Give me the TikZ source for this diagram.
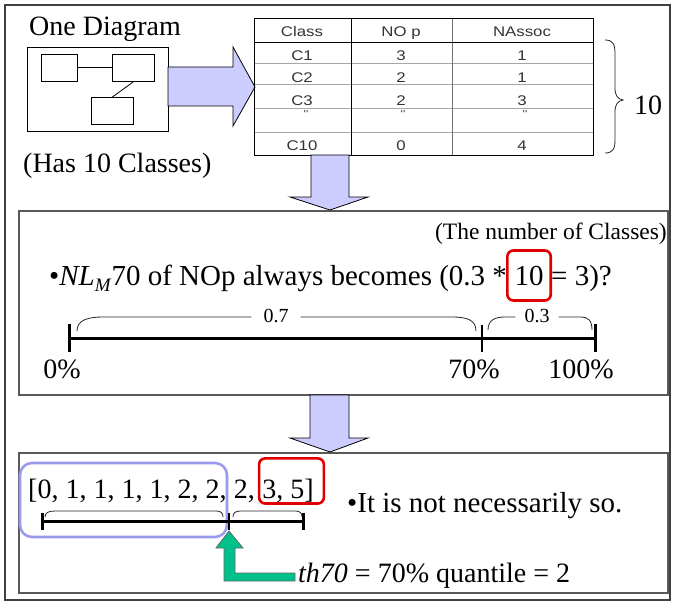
\documentclass[tikz,border=0pt]{standalone}
\usepackage{fontspec}
\setmainfont{Liberation Serif}
\newfontfamily\tabfont[FakeStretch=1.2]{Liberation Sans}
\usetikzlibrary{calc}
\definecolor{lav}{HTML}{CCCCFF}
\definecolor{lavline}{HTML}{9A9AEE}
\definecolor{boxred}{HTML}{E00000}
\definecolor{qgreen}{HTML}{00C08B}
\newcommand\setfs[1]{\fontsize{#1}{#1}\selectfont}
\begin{document}
\begin{tikzpicture}[x=1pt,y=-1pt,
  frame/.style={draw=black!75, line width=1.3pt},
  panel/.style={draw=black!65, line width=1.4pt},
  fatarrow/.style={draw=black, line width=0.8pt, fill=lav, line join=miter},
  cls/.style={draw=black, line width=0.8pt, inner sep=0, anchor=north west},
  tab/.style={font=\tabfont\setfs{14}, text=black!80, inner sep=0, anchor=base},
  txt/.style={inner sep=0, anchor=base west},
  brc/.style={draw=black!85, line width=0.8pt},
  redbox/.style={draw=boxred, line width=2.6pt, rounded corners=6pt},
  axis/.style={line width=3pt},
  midtick/.style={line width=2pt}]
\useasboundingbox (0,0) rectangle (673,602);
\draw[frame] (5,5) rectangle (670,600);

% ---------- top left: one diagram ----------
\node[txt, font=\setfs{28}] (title) at (29,36) {One Diagram};
\node[cls, minimum width=141, minimum height=84] (dia) at (27,47) {};
\node[cls, minimum width=36, minimum height=27] (c1) at (41,54) {};
\node[cls, minimum width=42, minimum height=27] (c2) at (112,54) {};
\node[cls, minimum width=42, minimum height=27] (c3) at (91,97) {};
\draw[line width=0.8pt] (c1.east) -- (c2.west);
\draw[line width=0.8pt] (c2.south) -- (c3.north);
\node[txt, font=\setfs{28}] (has) at (23,172) {(Has 10 Classes)};

% right arrow
\draw[fatarrow] (168,67) -- (233,67) -- (233,47) -- (255,87) -- (233,126) -- (233,106) -- (168,106) -- cycle;

% ---------- table ----------
\draw[black!35, line width=0.8pt] (254,63) -- (593,63) (254,84) -- (593,84) (254,108) -- (593,108) (254,132) -- (593,132);
\draw[black!55, line width=0.8pt] (452,18) -- (452,155);
\draw[black, line width=0.9pt] (254,42) -- (593,42) (351,18) -- (351,155);
\draw[black, line width=0.9pt] (254,18) rectangle (593,155);
\node[tab] (h1) at (302,36.5) {Class};
\node[tab] (h2) at (401,36.5) {NO p};
\node[tab] (h3) at (522,36.5) {NAssoc};
\node[tab] (r11) at (302,61) {C1};
\node[tab] (r12) at (401,61) {3};
\node[tab] (r13) at (522,61) {1};
\node[tab] (r21) at (302,82.5) {C2};
\node[tab] (r22) at (401,82.5) {2};
\node[tab] (r23) at (522,82.5) {1};
\node[tab] (r31) at (302,105.5) {C3};
\node[tab] (r32) at (401,105.5) {2};
\node[tab] (r33) at (522,105.5) {3};
\node[tab, font=\tabfont\setfs{10}] (d1) at (306,117.5) {''};
\node[tab, font=\tabfont\setfs{10}] (d2) at (403,117.5) {''};
\node[tab, font=\tabfont\setfs{10}] (d3) at (525,117.5) {''};
\node[tab] (r41) at (302,150) {C10};
\node[tab] (r42) at (401,150) {0};
\node[tab] (r43) at (522,150) {4};

% big brace and 10
\draw[brc] (605,40) .. controls (613,40) and (615,44) .. (615,54) -- (615,88)
  .. controls (615,96) and (618,99) .. (623,100)
  .. controls (618,101) and (615,104) .. (615,112) -- (615,140)
  .. controls (615,150) and (612,153) .. (605,153);
\node[txt, font=\setfs{28}] (ten) at (634,114) {10};

% ---------- middle panel ----------
\draw[panel] (19,211) rectangle (668,395);
\draw[fatarrow] (311,155) -- (349,155) -- (349,197) -- (368,197) -- (330,210) -- (290,197) -- (311,197) -- cycle;

\node[inner sep=0, anchor=base east, font=\setfs{23.5}] (noc) at (667,239) {(The number of Classes)};
\node[txt, font=\setfs{29}] (s1) at (49,285) {•\textit{NL}\raisebox{-0.22em}{\setfs{19}\textit{M}}70 of NOp always becomes (0.3 *};
\node[txt, font=\setfs{29}] (s2) at ($(s1.base east)+(7.2,0)$) {10};
\node[txt, font=\setfs{29}] (s3) at ($(s2.base east)+(7.2,0)$) {= 3)?};
\draw[redbox] ($(s2.north west)+(-7,-15)$) rectangle ($(s2.south east)+(7,15)$);

% number line
\coordinate (p0) at (69,338);
\coordinate (p70) at (482,338);
\coordinate (p100) at (595,338);
\draw[axis] (p0) -- (p100);
\draw[axis] ($(p0)+(0,-14)$) -- ($(p0)+(0,14)$);
\draw[axis] ($(p100)+(0,-14)$) -- ($(p100)+(0,14)$);
\draw[midtick] ($(p70)+(0,-13)$) -- ($(p70)+(0,14)$);
\node[inner sep=1pt, font=\setfs{20}] (l07) at (276,316) {0.7};
\node[inner sep=1pt, font=\setfs{20}] (l03) at (537,316) {0.3};
\draw[brc] (77,331) .. controls (77,320) and (88,317) .. (103,317) -- ($(l07.west)+(-11,1)$);
\draw[brc] ($(l07.east)+(11,1)$) -- (452,317) .. controls (467,317) and (476,320) .. (476,331);
\draw[brc] (488,330) .. controls (488,320) and (495,317) .. (505,317) -- ($(l03.west)+(-8,1)$);
\draw[brc] ($(l03.east)+(8,1)$) -- (580,317) .. controls (588,317) and (592,320) .. (592,330);
\node[inner sep=0, anchor=base, font=\setfs{28}] (t0) at (62,378) {0\%};
\node[inner sep=0, anchor=base, font=\setfs{28}] (t70) at (474,378) {70\%};
\node[inner sep=0, anchor=base, font=\setfs{28}] (t100) at (581,378) {100\%};

% ---------- bottom panel ----------
\draw[panel] (19,453) rectangle (668,593);
\draw[fatarrow] (310,395) -- (349,395) -- (349,438) -- (368,438) -- (330,452) -- (290,438) -- (310,438) -- cycle;

\node[txt, font=\setfs{28}] (a1) at (28,498) {[0, 1, 1, 1, 1, 2, 2,};
\node[txt, font=\setfs{28}] (a2) at ($(a1.base east)+(7,0)$) {2,};
\node[txt, font=\setfs{28}] (a3) at ($(a2.base east)+(7,0)$) {3, 5]};
\draw[redbox] ($(a3.north west)+(-3,-20)$) rectangle ($(a3.south east)+(10,1)$);
\draw[draw=lavline, line width=2.6pt, rounded corners=12pt] (20,463) rectangle (227,537);

\coordinate (q0) at (42,521);
\coordinate (q70) at (229,521);
\coordinate (q100) at (303,521);
\draw[axis] (q0) -- (q100);
\draw[axis] ($(q0)+(0,-8.5)$) -- ($(q0)+(0,8.5)$);
\draw[axis] ($(q100)+(0,-8.5)$) -- ($(q100)+(0,8.5)$);
\draw[midtick] ($(q70)+(0,-8)$) -- ($(q70)+(0,9)$);
\draw[brc] (45,517) .. controls (45,513) and (48,511) .. (55,511) -- (216,511) .. controls (221,511) and (223,513) .. (223,517);
\draw[brc] (233,517) .. controls (233,513) and (235,511) .. (241,511) -- (295,511) .. controls (300,511) and (302,513) .. (302,517);

\node[txt, font=\setfs{29}] (note) at (347,512) {•It is not necessarily so.};
\node[txt, font=\setfs{28}] (th) at (298,582) {\textit{th70} = 70\% quantile = 2};

% green elbow arrow
\draw[draw=black!60, line width=0.8pt, fill=qgreen, line join=miter]
  (q70) ++(0,10) -- (243,548) -- (235,548) -- (235,573) -- (295,573) -- (295,581)
  -- (224,581) -- (224,548) -- (216,548) -- cycle;
\end{tikzpicture}
\end{document}
